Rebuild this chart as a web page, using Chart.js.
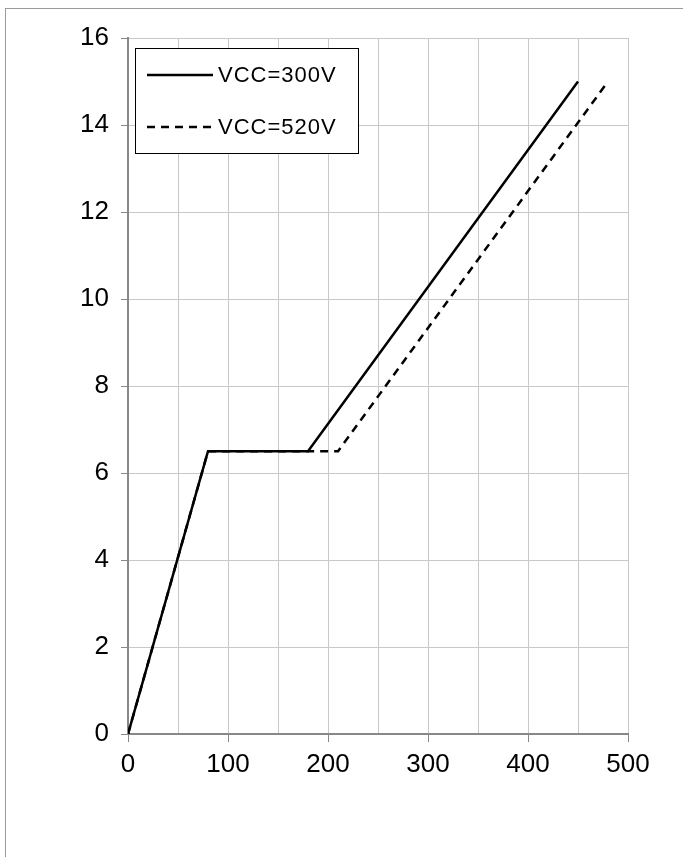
<!DOCTYPE html>
<html>
<head>
<meta charset="utf-8">
<script src="https://cdn.jsdelivr.net/npm/chart.js@4/dist/chart.umd.min.js"></script>
<style>
  html, body { margin: 0; padding: 0; background: #fff; }
  #wrap { position: relative; width: 683px; height: 857px; overflow: hidden; }
  #frame { position: absolute; left: 5px; top: 8px; right: -2px; bottom: -2px;
           border: 1px solid #9a9a9a; pointer-events: none; }
  canvas { position: absolute; left: 0; top: 0; }
</style>
</head>
<body>
<div id="wrap">
  <canvas id="myChart" width="683" height="857"></canvas>
  <div id="frame"></div>
</div>
<script>
const seriesNames = ['VCC=300V', 'VCC=520V'];
const vcc300x = [0, 80, 180, 450];
const vcc300y = [0, 6.5, 6.5, 15];
const vcc520x = [0, 80, 210, 480];
const vcc520y = [0, 6.5, 6.5, 15];
const xTicks = [0, 100, 200, 300, 400, 500];
const yTicks = [0, 2, 4, 6, 8, 10, 12, 14, 16];

const FONT = 'Liberation Sans, Arial, sans-serif';

function toPoints(xs, ys) {
  return xs.map((x, i) => ({x: x, y: ys[i]}));
}

// legend with a black frame, drawn inside the plot area
const boxLegend = {
  id: 'boxLegend',
  afterDraw: function(chart) {
    const ctx = chart.ctx;
    const area = chart.chartArea;
    const left = area.left + 7, top = area.top + 10;
    const w = 223, h = 105;
    ctx.save();
    ctx.fillStyle = '#fff';
    ctx.fillRect(left, top, w, h);
    ctx.strokeStyle = '#000';
    ctx.lineWidth = 1;
    ctx.setLineDash([]);
    ctx.strokeRect(left + 0.5, top + 0.5, w, h);
    chart.data.datasets.forEach(function(ds, i) {
      const y = top + 27 + i * 52;
      ctx.beginPath();
      ctx.setLineDash(ds.borderDash || []);
      ctx.strokeStyle = ds.borderColor;
      ctx.lineWidth = ds.borderWidth;
      ctx.moveTo(left + 12, y);
      ctx.lineTo(left + 78, y);
      ctx.stroke();
      ctx.setLineDash([]);
      ctx.fillStyle = '#000';
      ctx.font = '22px ' + FONT;
      ctx.textBaseline = 'middle';
      ctx.letterSpacing = '1px';
      ctx.fillText(ds.label, left + 83, y + 1);
    });
    ctx.restore();
  }
};

const app = {
  init: function() {
    const ctx = document.getElementById('myChart').getContext('2d');
    this.chart = new Chart(ctx, {
      type: 'line',
      data: {
        datasets: [{
          label: seriesNames[0],
          data: toPoints(vcc300x, vcc300y),
          borderColor: '#000',
          borderWidth: 2.5,
          pointRadius: 0,
          tension: 0,
          order: 1
        },
        {
          label: seriesNames[1],
          data: toPoints(vcc520x, vcc520y),
          borderColor: '#000',
          borderWidth: 2.5,
          borderDash: [8, 6],
          pointRadius: 0,
          tension: 0,
          order: 2
        }]
      },
      options: {
        responsive: false,
        animation: false,
        layout: {padding: {left: 0, right: 55, top: 38, bottom: 73}},
        plugins: {legend: {display: false}, tooltip: {enabled: false}},
        scales: {
          x: {
            type: 'linear',
            min: 0, max: 500,
            afterBuildTicks: function(scale) {
              scale.ticks = [];
              for (let v = 0; v <= 500; v += 50) scale.ticks.push({value: v});
            },
            afterFit: function(scale) { scale.height = 50; },
            grid: {
              color: '#c8c8c8',
              lineWidth: 1,
              tickLength: 8,
              tickColor: function(c) { return xTicks.includes(c.tick.value) ? '#888' : 'rgba(0,0,0,0)'; }
            },
            border: {color: '#888', width: 2},
            ticks: {
              color: '#000',
              font: {family: FONT, size: 26},
              padding: 7,
              maxRotation: 0,
              autoSkip: false,
              callback: function(v) { return xTicks.includes(v) ? String(v) : ''; }
            }
          },
          y: {
            type: 'linear',
            min: 0, max: 16,
            afterBuildTicks: function(scale) {
              scale.ticks = yTicks.map(v => ({value: v}));
            },
            afterFit: function(scale) { scale.width = 128; },
            grid: {color: '#c8c8c8', lineWidth: 1, tickLength: 7, tickColor: '#888'},
            border: {color: '#888', width: 2},
            ticks: {
              color: '#000',
              font: {family: FONT, size: 26},
              padding: 12
            }
          }
        }
      },
      plugins: [boxLegend]
    });
  }
};

app.init();
</script>
</body>
</html>
